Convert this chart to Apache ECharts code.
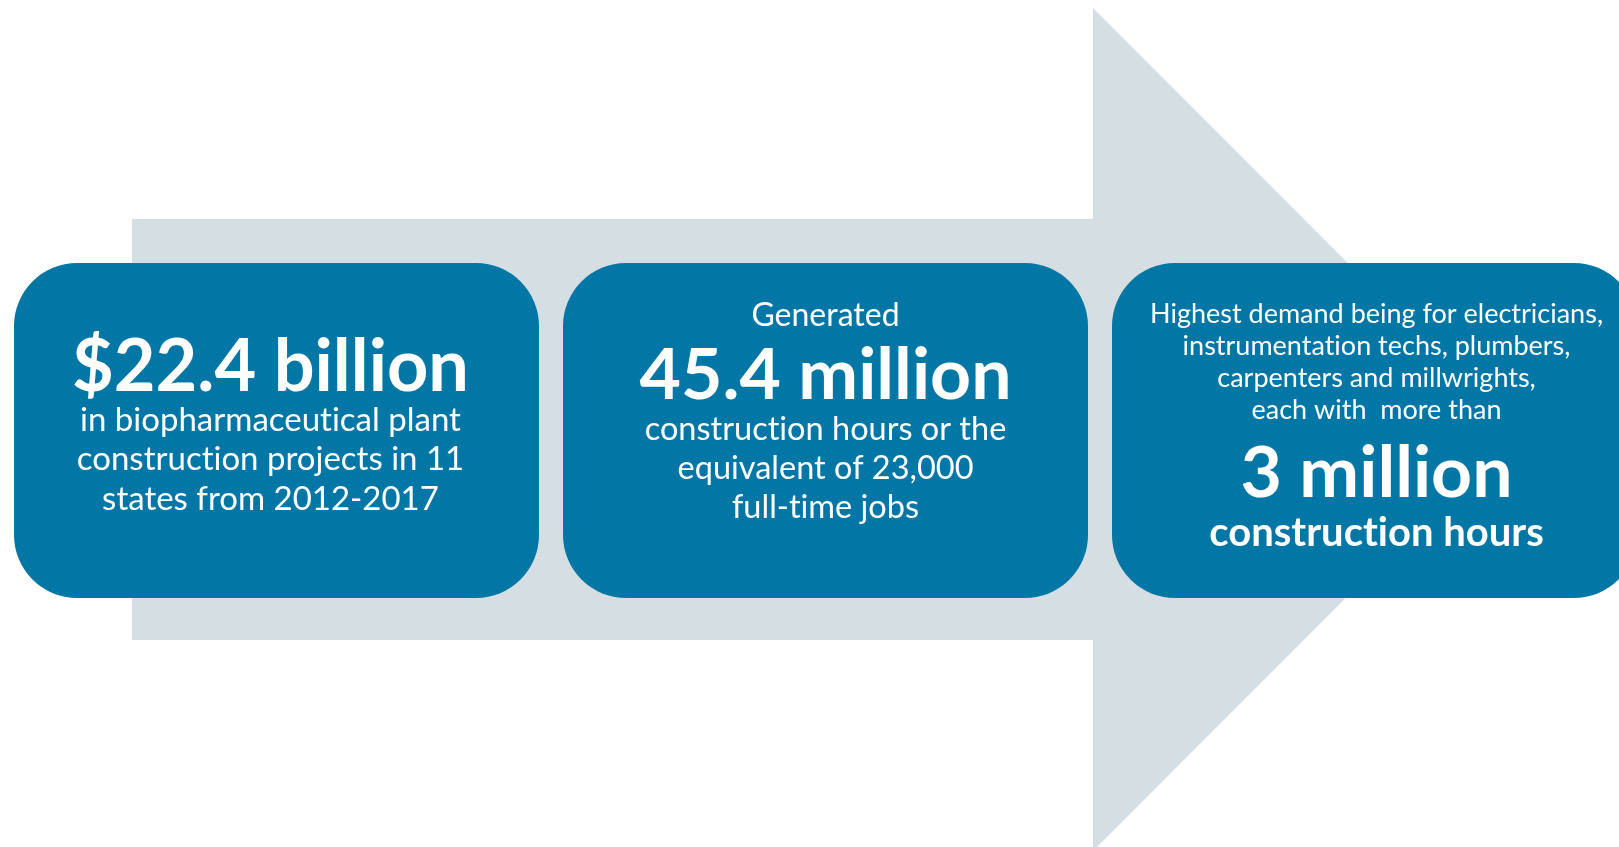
<!DOCTYPE html>
<html><head><meta charset="utf-8">
<script src="https://cdn.jsdelivr.net/npm/echarts@6/dist/echarts.min.js"></script>
<style>html,body{margin:0;padding:0;background:#fff;}#main{width:1619px;height:847px;}</style>
</head><body><div id="main"></div>
<script>
// ---- content ----
const panels = ['Investment', 'Construction hours', 'Trades'];
const leadText = ['', 'Generated', 'Highest demand being for electricians,\ninstrumentation techs, plumbers,\ncarpenters and millwrights,\neach with  more than'];
const headlines = ['$22.4 billion', '45.4 million', '3 million'];
const detailText = [
  'in biopharmaceutical plant\nconstruction projects in 11\nstates from 2012-2017',
  'construction hours or the\nequivalent of 23,000\nfull-time jobs',
  'construction hours'
];

// ---- styles / layout ----
const BLUE = '#0277a6', GRAY = '#d5dee3', WHITE = '#ffffff';
const FONT = 'Lato';
const MID = 0.335; // baseline -> middle offset factor
const layouts = [
  { dx: -6, lead: null, head: { base: 392, size: 72 }, detail: { base: 431.5, step: 39.3, size: 33, weight: 'normal' } },
  { dx: 0, lead: { base: 326.5, step: 0, size: 32 }, head: { base: 400, size: 71.5 }, detail: { base: 440.5, step: 39, size: 32.5, weight: 'normal' } },
  { dx: 2, lead: { base: 323.5, step: 32, size: 27 }, head: { base: 498, size: 71.5 }, detail: { base: 546, step: 0, size: 40, weight: 'bold' } }
];

// draw text without typographic ligatures (e.g. "ti")
(function () {
  const P = CanvasRenderingContext2D.prototype, orig = P.fillText;
  P.fillText = function () { try { this.textRendering = 'optimizeSpeed'; } catch (e) {} return orig.apply(this, arguments); };
})();

function lineEls(text, cx, base, step, size, weight, api, i) {
  return text.split('\n').map((t, k) => {
    const y = api.coord([i, base + k * step])[1] - size * MID;
    return { type: 'text', x: cx, y: y, style: { text: t, fill: WHITE, font: weight + ' ' + size + 'px ' + FONT, align: 'center', verticalAlign: 'middle' } };
  });
}

const chart = echarts.init(document.getElementById('main'), null, { renderer: 'canvas' });
chart.setOption({
  backgroundColor: '#ffffff',
  animation: false,
  grid: { left: 2, width: 1647, top: 0, height: 847, containLabel: false, outerBoundsMode: 'none' },
  xAxis: { type: 'category', data: panels, show: false, boundaryGap: true },
  yAxis: { type: 'value', min: 0, max: 847, inverse: true, show: false },
  series: [
    {
      type: 'custom', silent: true, z: 1,
      data: [[0, 0]],
      renderItem: function (params, api) {
        const c0 = api.coord([0, 0])[0], c2 = api.coord([2, 0])[0];
        const Y = v => api.coord([0, v])[1];
        const tailX = c0 - 144.5, headX = c2 - 281.5, tipX = c2 + 139.5;
        return {
          type: 'polygon',
          shape: { points: [[tailX, Y(219)], [headX, Y(219)], [headX, Y(8)], [tipX, Y(429.5)], [headX, Y(851)], [headX, Y(640)], [tailX, Y(640)]] },
          style: { fill: GRAY }
        };
      }
    },
    {
      type: 'custom', silent: true, z: 2,
      data: panels.map((p, i) => [i, 0]),
      renderItem: function (params, api) {
        const i = params.dataIndex;
        const L = layouts[i];
        const c = api.coord([i, 0]);
        const bw = api.size([1, 0])[0];
        const w = bw * 525 / 549;
        const top = api.coord([i, 263])[1], bot = api.coord([i, 598])[1];
        const cx = c[0] + L.dx;
        const children = [{ type: 'rect', shape: { x: c[0] - w / 2, y: top, width: w, height: bot - top, r: 63 }, style: { fill: BLUE } }];
        if (L.lead && leadText[i]) children.push(...lineEls(leadText[i], cx, L.lead.base, L.lead.step, L.lead.size, 'normal', api, i));
        children.push(...lineEls(headlines[i], cx, L.head.base, 0, L.head.size, 'bold', api, i));
        children.push(...lineEls(detailText[i], cx, L.detail.base, L.detail.step, L.detail.size, L.detail.weight, api, i));
        return { type: 'group', children: children };
      }
    }
  ]
});
</script>
</body></html>
